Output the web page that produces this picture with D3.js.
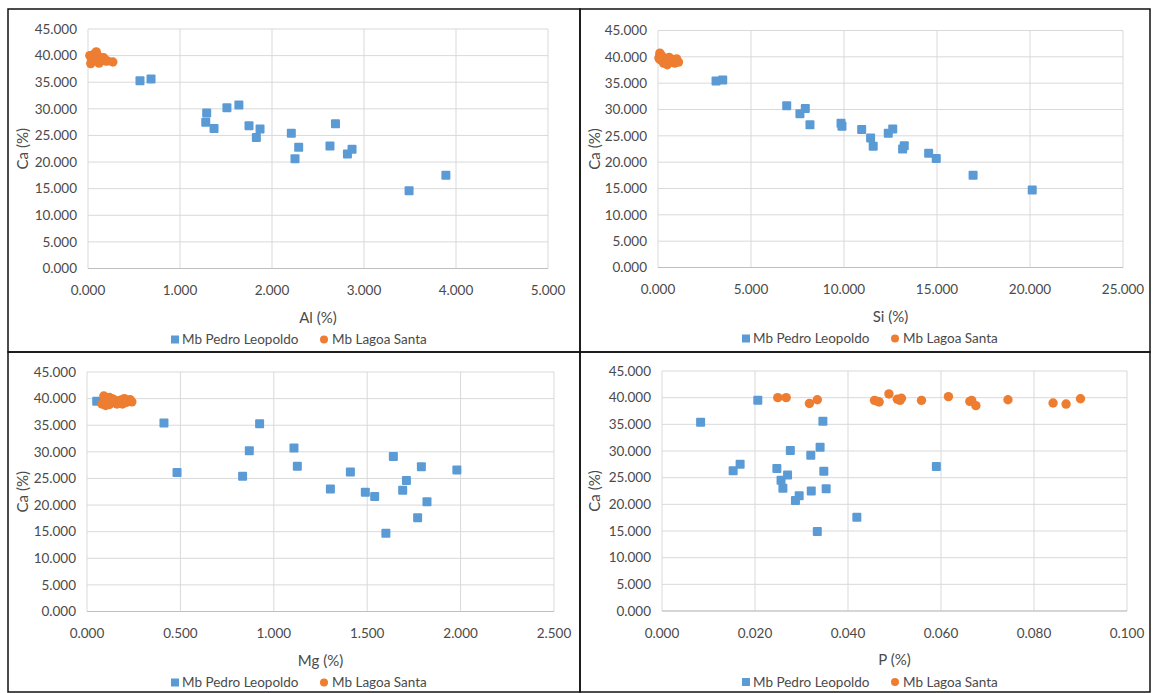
<!doctype html>
<html lang="pt">
<head>
    <meta charset="utf-8">
    <title>Ca vs Al, Si, Mg, P</title>
    <script src="https://d3js.org/d3.v7.min.js"></script>
    <style>
        body { margin: 0; background: #fff; }
        svg text { font-family: Lato, "Open Sans", sans-serif; fill: #4a4a4a; }
    </style>
</head>
<body>
<svg id="chart" width="1153" height="693"></svg>
<script>
    // y axis (shared) ticks
    const caTicks = [0, 5, 10, 15, 20, 25, 30, 35, 40, 45];

    // Al (%) panel
    const alTicks = [0, 1, 2, 3, 4, 5];
    const alBlue = [0.05, 0.565, 0.685, 1.29, 1.28, 1.37, 1.51, 1.64, 1.75, 1.83, 1.87, 2.21, 2.29, 2.25, 2.69, 2.63, 2.87, 2.82, 3.89, 3.49];
    const caAlBlue = [39.5, 35.3, 35.6, 29.2, 27.5, 26.3, 30.2, 30.7, 26.8, 24.6, 26.2, 25.4, 22.8, 20.6, 27.2, 23.0, 22.4, 21.5, 17.5, 14.6];
    const alOrange = [0.02, 0.03, 0.04, 0.05, 0.06, 0.07, 0.08, 0.09, 0.10, 0.11, 0.04, 0.03, 0.06, 0.08, 0.12, 0.15, 0.17, 0.19, 0.21, 0.27];
    const caAlOrange = [40.0, 40.0, 38.9, 39.6, 39.5, 39.3, 39.2, 40.7, 39.7, 39.9, 39.5, 38.5, 40.2, 39.3, 38.6, 39.5, 39.6, 39.0, 39.0, 38.8];

    // Si (%) panel
    const siTicks = [0, 5, 10, 15, 20, 25];
    const siBlue = [0.3, 3.12, 3.48, 6.92, 7.63, 7.92, 8.17, 9.84, 9.89, 10.95, 11.43, 11.57, 12.38, 12.62, 13.15, 13.24, 14.55, 14.96, 16.94, 20.12];
    const caSiBlue = [39.5, 35.4, 35.6, 30.7, 29.2, 30.2, 27.1, 27.4, 26.8, 26.2, 24.6, 23.0, 25.5, 26.3, 22.5, 23.1, 21.7, 20.7, 17.5, 14.7];
    const siOrange = [0.05, 0.10, 0.15, 0.20, 0.25, 0.30, 0.35, 0.40, 0.20, 0.10, 0.45, 0.50, 0.55, 0.60, 0.70, 0.75, 0.80, 0.90, 1.00, 1.10];
    const caSiOrange = [39.8, 40.7, 39.5, 40.2, 39.3, 38.8, 39.6, 39.0, 40.0, 39.5, 39.2, 38.5, 39.7, 39.9, 39.3, 39.5, 39.0, 38.8, 39.6, 39.0];

    // Mg (%) panel
    const mgTicks = [0, 0.5, 1, 1.5, 2, 2.5];
    const mgBlue = [0.052, 0.412, 0.482, 0.833, 0.869, 0.924, 1.108, 1.126, 1.303, 1.41, 1.49, 1.54, 1.60, 1.64, 1.69, 1.71, 1.77, 1.79, 1.82, 1.98];
    const caMgBlue = [39.5, 35.4, 26.1, 25.4, 30.2, 35.3, 30.7, 27.3, 23.0, 26.2, 22.4, 21.6, 14.7, 29.1, 22.8, 24.6, 17.6, 27.2, 20.6, 26.6];
    const mgOrange = [0.08, 0.09, 0.10, 0.11, 0.12, 0.13, 0.14, 0.15, 0.16, 0.17, 0.10, 0.12, 0.13, 0.18, 0.19, 0.20, 0.21, 0.22, 0.23, 0.24];
    const caMgOrange = [39.0, 40.5, 38.7, 39.8, 40.2, 39.3, 39.9, 39.5, 39.0, 39.6, 39.4, 38.9, 40.0, 39.7, 39.0, 40.0, 39.3, 39.5, 39.8, 39.4];

    // P (%) panel
    const pTicks = [0, 0.02, 0.04, 0.06, 0.08, 0.1];
    const pBlue = [0.0083, 0.0206, 0.0153, 0.0168, 0.0247, 0.0256, 0.0260, 0.0270, 0.0276, 0.0287, 0.0295, 0.0320, 0.0321, 0.0340, 0.0346, 0.0348, 0.0353, 0.0334, 0.0419, 0.0590];
    const caPBlue = [35.4, 39.5, 26.3, 27.5, 26.7, 24.5, 23.0, 25.5, 30.1, 20.7, 21.6, 29.2, 22.5, 30.7, 35.6, 26.2, 22.9, 14.9, 17.6, 27.1];
    const pOrange = [0.0249, 0.0267, 0.0317, 0.0334, 0.0457, 0.0464, 0.0467, 0.0488, 0.0506, 0.0515, 0.0512, 0.0558, 0.0616, 0.0662, 0.0666, 0.0675, 0.0744, 0.0841, 0.0869, 0.0900];
    const caPOrange = [40.0, 40.0, 38.9, 39.6, 39.5, 39.3, 39.2, 40.7, 39.7, 39.9, 39.5, 39.5, 40.2, 39.3, 39.5, 38.5, 39.6, 39.0, 38.8, 39.8];

    const seriesNames = ["Mb Pedro Leopoldo", "Mb Lagoa Santa"];

    const blue = "#5B9BD5", orange = "#ED7D31", grid = "#D9D9D9";

    const panels = [
        {title: "Al (%)", ticks: alTicks, xb: alBlue, yb: caAlBlue, xo: alOrange, yo: caAlOrange,
         box: [8, 9, 580, 352], plot: [88, 29, 548, 268.5]},
        {title: "Si (%)", ticks: siTicks, xb: siBlue, yb: caSiBlue, xo: siOrange, yo: caSiOrange,
         box: [580, 9, 1150, 352], plot: [658, 30.5, 1123, 267.5]},
        {title: "Mg (%)", ticks: mgTicks, xb: mgBlue, yb: caMgBlue, xo: mgOrange, yo: caMgOrange,
         box: [8, 352, 580, 692], plot: [87, 372, 554, 611.5]},
        {title: "P (%)", ticks: pTicks, xb: pBlue, yb: caPBlue, xo: pOrange, yo: caPOrange,
         box: [580, 352, 1150, 692], plot: [662, 371, 1127, 611]}
    ];

    const svg = d3.select("#chart");
    const fmt = d3.format(".3f");

    panels.forEach(p => {
        const [x0, y0, x1, y1] = p.plot;
        const x = d3.scaleLinear().domain(d3.extent(p.ticks)).range([x0, x1]);
        const y = d3.scaleLinear().domain(d3.extent(caTicks)).range([y1, y0]);
        const g = svg.append("g");

        // gridlines
        g.selectAll(".hg").data(caTicks).join("line")
            .attr("x1", x0).attr("x2", x1)
            .attr("y1", d => y(d)).attr("y2", d => y(d))
            .attr("stroke", grid).attr("stroke-width", 1);
        g.selectAll(".vg").data(p.ticks).join("line")
            .attr("x1", d => x(d)).attr("x2", d => x(d))
            .attr("y1", y0).attr("y2", y1)
            .attr("stroke", grid).attr("stroke-width", 1);
        g.append("line")
            .attr("x1", x0).attr("x2", x1).attr("y1", y1).attr("y2", y1)
            .attr("stroke", "#BFBFBF").attr("stroke-width", 1);

        // tick labels
        g.selectAll(".yl").data(caTicks).join("text")
            .attr("x", x0 - 11).attr("y", d => y(d))
            .attr("dy", "0.35em").attr("text-anchor", "end")
            .attr("font-size", 13.5).text(fmt);
        g.selectAll(".xl").data(p.ticks).join("text")
            .attr("x", d => x(d)).attr("y", y1 + 22)
            .attr("dy", "0.35em").attr("text-anchor", "middle")
            .attr("font-size", 13.5).text(fmt);

        // axis titles
        g.append("text")
            .attr("x", (x0 + x1) / 2).attr("y", y1 + 49).attr("dy", "0.35em")
            .attr("text-anchor", "middle").attr("font-size", 15).text(p.title);
        g.append("text")
            .attr("transform", `translate(${p.box[0] + 15},${(y0 + y1) / 2}) rotate(-90)`)
            .attr("dy", "0.35em").attr("text-anchor", "middle")
            .attr("font-size", 15).text("Ca (%)");

        // points
        g.selectAll(".sq").data(d3.zip(p.xb, p.yb)).join("rect")
            .attr("x", d => x(d[0]) - 4.5).attr("y", d => y(d[1]) - 4.5)
            .attr("width", 9).attr("height", 9).attr("rx", 1)
            .attr("fill", blue);
        g.selectAll(".ci").data(d3.zip(p.xo, p.yo)).join("circle")
            .attr("cx", d => x(d[0])).attr("cy", d => y(d[1]))
            .attr("r", 4.7).attr("fill", orange);

        // legend
        const cx = (p.box[0] + p.box[2]) / 2;
        const ly = y1 + 71;
        const leg = g.append("g").attr("transform", `translate(${cx - 123},${ly})`);
        leg.append("rect").attr("x", 0).attr("y", -4).attr("width", 8).attr("height", 8).attr("fill", blue);
        leg.append("text").attr("x", 11).attr("dy", "0.35em").attr("font-size", 13.5).text(seriesNames[0]);
        leg.append("circle").attr("cx", 153).attr("cy", 0).attr("r", 4).attr("fill", orange);
        leg.append("text").attr("x", 161).attr("dy", "0.35em").attr("font-size", 13.5).text(seriesNames[1]);

        // panel frame
        svg.append("rect")
            .attr("x", p.box[0]).attr("y", p.box[1])
            .attr("width", p.box[2] - p.box[0]).attr("height", p.box[3] - p.box[1])
            .attr("fill", "none").attr("stroke", "#111").attr("stroke-width", 1.5);
    });
</script>
</body>
</html>
